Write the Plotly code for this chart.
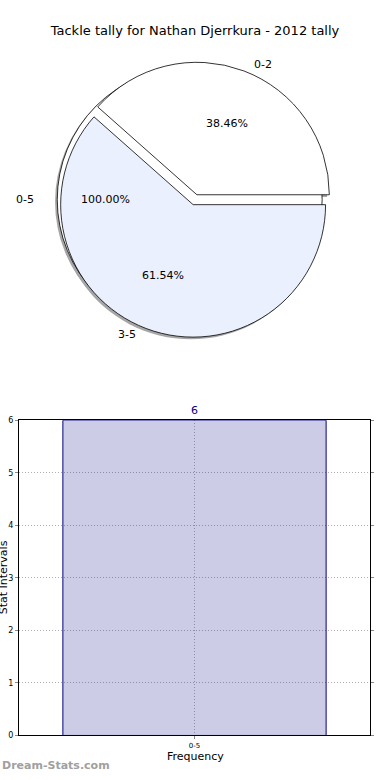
import math
import plotly.graph_objects as go

W, H = 390, 780

# ---- data ----
title_text = "Tackle tally for Nathan Djerrkura - 2012 tally"
outer_labels = ["0-5"]
outer_values = [6]
inner_labels = ["0-2", "3-5"]
inner_values = [5, 8]
inner_colors = ["#ffffff", "#eaf0fd"]
bar_categories = ["0-5"]
bar_values = [6]
y_ticks = [0, 1, 2, 3, 4, 5, 6]

FONT = "DejaVu Sans"
PULL = 0.04
R = 134.0          # pie radius in px (plotly)
RX, RY = 140.0, 128.0  # text placement radii
CX, CY = 195.0, 198.0  # pie center in px


def px(x):
    return x / W


def py(y):
    return 1 - y / H


def start_rotation(values):
    # plotly's counterclockwise pies end their first slice at `rotation`;
    # shift so the first slice starts at 3 o'clock (matplotlib default)
    first = 360.0 * values[0] / float(sum(values))
    return (90.0 - first) % 360


# pie domain so that radius = R with pull
box = 2 * R * (1 + PULL)
dom_x = [px(CX - box / 2), px(CX + box / 2)]
dom_y = [py(CY + box / 2), py(CY - box / 2)]
sh = 2.2  # shadow offset px
sdom_x = [dom_x[0] - sh / W, dom_x[1] - sh / W]
sdom_y = [dom_y[0] - sh / H, dom_y[1] - sh / H]

fig = go.Figure()

common = dict(sort=False, direction="counterclockwise",
              textinfo="none", hoverinfo="label+percent", showlegend=False)

# shadows
fig.add_trace(go.Pie(labels=outer_labels, values=outer_values, pull=[PULL],
                     rotation=start_rotation(outer_values),
                     domain=dict(x=sdom_x, y=sdom_y),
                     marker=dict(colors=["#a6a6a6"], line=dict(width=0)), **common))
fig.add_trace(go.Pie(labels=inner_labels, values=inner_values, pull=[PULL] * len(inner_values),
                     rotation=start_rotation(inner_values),
                     domain=dict(x=sdom_x, y=sdom_y),
                     marker=dict(colors=["#a6a6a6"] * len(inner_values), line=dict(width=0)), **common))
# outer full pie
fig.add_trace(go.Pie(labels=outer_labels, values=outer_values, pull=[PULL],
                     rotation=start_rotation(outer_values),
                     domain=dict(x=dom_x, y=dom_y),
                     marker=dict(colors=["#ffffff"], line=dict(color="#000000", width=0.8)), **common))
# inner pie
fig.add_trace(go.Pie(labels=inner_labels, values=inner_values, pull=[PULL] * len(inner_values),
                     rotation=start_rotation(inner_values),
                     domain=dict(x=dom_x, y=dom_y),
                     marker=dict(colors=inner_colors, line=dict(color="#000000", width=0.8)), **common))

annotations = []


def pie_texts(labels, values):
    total = float(sum(values))
    start = 0.0
    for lab, v in zip(labels, values):
        frac = v / total
        mid = math.radians((start + frac / 2) * 360)
        start += frac
        c, s = math.cos(mid), math.sin(mid)
        ox = CX + PULL * R * c
        oy = CY - PULL * R * s
        lx = ox + 1.1 * RX * c
        ly = oy - 1.1 * RY * s
        annotations.append(dict(x=px(lx), y=py(ly), xref="paper", yref="paper",
                                text=lab, showarrow=False,
                                xanchor="left" if c > 1e-9 else ("right" if c < -1e-9 else "center"),
                                yanchor="middle",
                                font=dict(family=FONT, size=11, color="#000000")))
        tx = ox + 0.6 * RX * c
        ty = oy - 0.6 * RY * s
        annotations.append(dict(x=px(tx), y=py(ty), xref="paper", yref="paper",
                                text="%.2f%%" % (frac * 100), showarrow=False,
                                xanchor="center", yanchor="middle",
                                font=dict(family=FONT, size=11, color="#000000")))


pie_texts(outer_labels, outer_values)
pie_texts(inner_labels, inner_values)

# bar chart
fig.add_trace(go.Bar(x=bar_categories, y=bar_values, width=0.75,
                     marker=dict(color="rgba(0,0,128,0.2)", line=dict(color="#000080", width=1)),
                     text=[str(v) for v in bar_values], textposition="outside",
                     textfont=dict(family=FONT, size=11, color="#000080"),
                     cliponaxis=False, showlegend=False, xaxis="x", yaxis="y"))

annotations.append(dict(x=px(3), y=py(580), xref="paper", yref="paper",
                        text="Stat Intervals", textangle=-90, showarrow=False,
                        xanchor="center", yanchor="middle",
                        font=dict(family=FONT, size=11, color="#000000")))
annotations.append(dict(x=px(195), y=py(761), xref="paper", yref="paper",
                        text="Frequency", showarrow=False,
                        xanchor="center", yanchor="middle",
                        font=dict(family=FONT, size=11, color="#000000")))
annotations.append(dict(x=0, y=py(770), xref="paper", yref="paper",
                        text="<b>Dream-Stats.com</b>", showarrow=False,
                        xanchor="left", yanchor="middle",
                        font=dict(family=FONT, size=11, color="#a0a0a0")))

fig.update_layout(
    width=W, height=H,
    margin=dict(l=0, r=0, t=0, b=0),
    paper_bgcolor="#ffffff", plot_bgcolor="#ffffff",
    title=dict(text=title_text, x=0.5, xanchor="center", y=py(30), yanchor="middle",
               font=dict(family=FONT, size=13, color="#000000")),
    xaxis=dict(domain=[px(19), px(370)], anchor="y", type="category",
               range=[-0.5, 0.5], showline=True, linecolor="#000000", linewidth=1,
               mirror=True, showgrid=True, gridcolor="#b0b0b0", griddash="1px,2px",
               ticks="outside", ticklen=3, tickcolor="#888888",
               tickfont=dict(family=FONT, size=7, color="#000000"), zeroline=False),
    yaxis=dict(domain=[py(740), py(421)], anchor="x", range=[0, 6],
               tickvals=y_ticks, showline=True, linecolor="#000000", linewidth=1,
               mirror="ticks", showgrid=True, gridcolor="#b0b0b0", griddash="1px,2px",
               ticks="outside", ticklen=3, tickcolor="#888888",
               tickfont=dict(family=FONT, size=8, color="#000000"), zeroline=False),
    annotations=annotations,
)

post = (
    "document.documentElement.style.margin='0px';"
    "document.body.style.margin='0px';"
    "document.documentElement.style.overflow='hidden';"
    "document.body.style.overflow='hidden';"
    "var gd=document.getElementById('{plot_id}');"
    "if(gd&&gd.parentElement){gd.parentElement.style.height='780px';"
    "gd.parentElement.style.overflow='hidden';}"
)
fig.write_html("out.html", post_script=post, config={"displayModeBar": False})
